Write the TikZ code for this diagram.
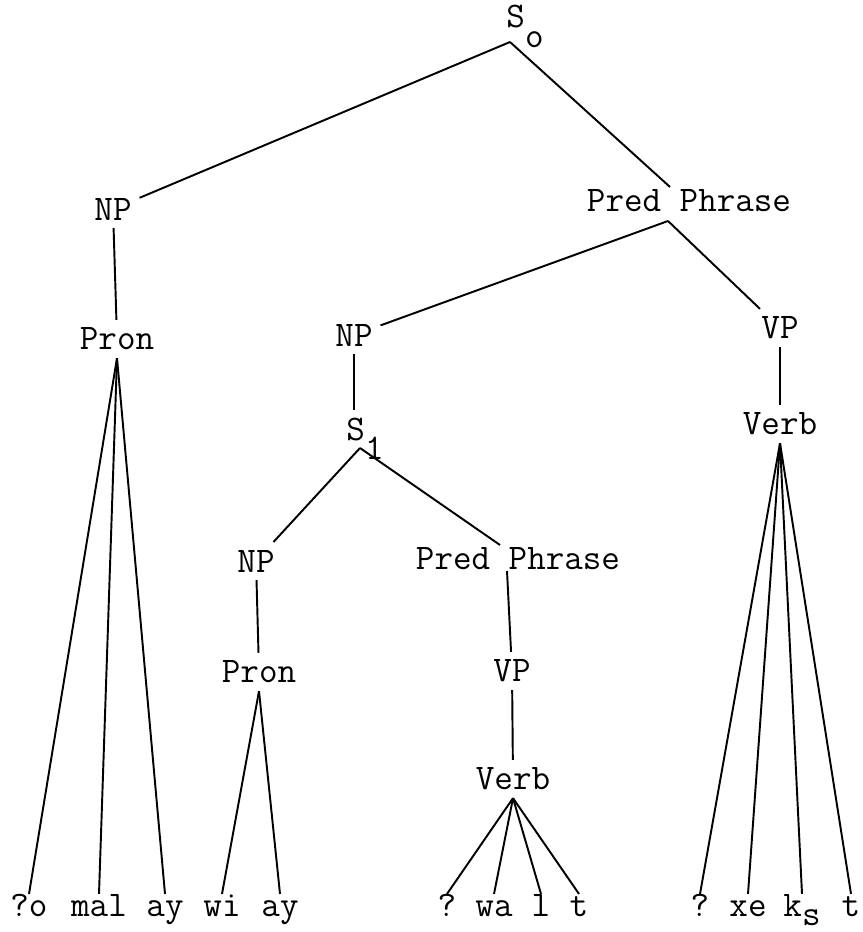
\documentclass[tikz,border=0pt]{standalone}
\usepackage{fontspec}
\usepackage{tikz}

\begin{document}
\begin{tikzpicture}[x=0.02cm, y=-0.02cm, line width=1.1pt,
  lab/.style={font=\fontsize{20.5}{22}\selectfont\ttfamily, inner sep=4pt},
  leaf/.style={lab, anchor=base, text height=8pt, text depth=0pt}]

\useasboundingbox (0,0) rectangle (862,932);

% top sentence
\node[lab, anchor=base] (s0) at (525,28) {S\raisebox{-0.4cm}{o}};
\coordinate (s0v) at (510,42);

\node[lab] (np1) at (113,209) {NP};
\node[lab] (pp1) at (689,201) {Pred Phrase};
\coordinate (pp1t) at (670,187);
\coordinate (pp1b) at (668,221);

\node[lab] (pron1) at (117,339) {Pron};
\node[lab] (np2) at (354,335) {NP};
\node[lab] (vp1) at (780,328) {VP};
\node[lab] (verb1) at (780,424) {Verb};

% embedded sentence
\node[lab, anchor=base] (s1) at (365,440) {S\raisebox{-0.4cm}{1}};
\coordinate (s1v) at (360,448);

\node[lab] (np3) at (256,561) {NP};
\node[lab] (pp2) at (518,559) {Pred Phrase};
\coordinate (pp2t) at (500,545);
\coordinate (pp2b) at (507,571);

\node[lab] (pron2) at (259,672) {Pron};
\node[lab] (vp2) at (512,671) {VP};
\node[lab] (verb2) at (513,779) {Verb};

% words
\node[leaf] (w1) at (29,916) {?o};
\node[leaf] (w2) at (99,916) {mal};
\node[leaf] (w3) at (165,916) {ay};
\node[leaf] (w4) at (222,916) {wi};
\node[leaf] (w5) at (280,916) {ay};
\node[leaf] (w6) at (447,916) {?};
\node[leaf] (w7) at (494,916) {wa};
\node[leaf] (w8) at (541,916) {l};
\node[leaf] (w9) at (579,916) {t};
\node[leaf] (w10) at (700,916) {?};
\node[leaf] (w11) at (748,916) {xe};
\node[leaf] (w12) at (802,916) {k\raisebox{-0.18cm}{s}};
\node[leaf] (w13) at (851,916) {t};

% branches
\draw (s0v)--(np1);
\draw (s0v)--(pp1t);
\draw (np1)--(pron1);
\draw (pp1b)--(np2);
\draw (pp1b)--(vp1);
\draw (vp1)--(verb1);
\draw (np2)--(np2 |- s1.north);

\draw (s1v)--(np3);
\draw (s1v)--(pp2t);
\draw (np3)--(pron2);
\draw (pp2b)--(vp2);
\draw (vp2)--(verb2);

\foreach \w in {w1,w2,w3}
  \draw (pron1.south)--(\w.north);
\foreach \w in {w4,w5}
  \draw (pron2.south)--(\w.north);
\foreach \w in {w6,w7,w8,w9}
  \draw (verb2.south)--(\w.north);
\foreach \w in {w10,w11,w12,w13}
  \draw (verb1.south)--(\w.north);

\end{tikzpicture}
\end{document}
